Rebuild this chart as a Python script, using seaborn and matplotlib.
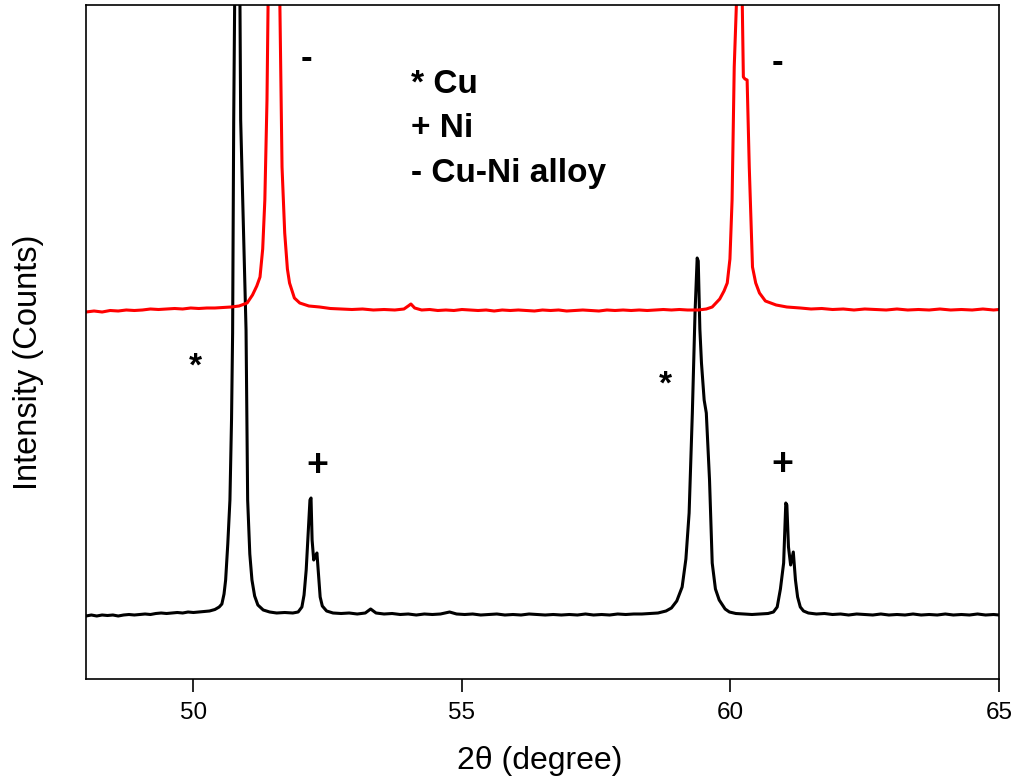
import matplotlib
matplotlib.use("Agg")
import matplotlib.pyplot as plt
import seaborn as sns
import pandas as pd

# ---------------- data ----------------
# Cu/Ni sample (black) : 2theta (degree) and intensity (arbitrary counts)
black_x = [48.00, 48.10, 48.20, 48.30, 48.40, 48.50, 48.60, 48.70, 48.80, 48.90,
           49.00, 49.10, 49.20, 49.30, 49.40, 49.50, 49.60, 49.70, 49.80, 49.90,
           50.00, 50.10, 50.20, 50.30, 50.40, 50.48, 50.53, 50.57, 50.60, 50.64,
           50.68, 50.71, 50.73, 50.75, 50.77, 50.81, 50.865, 50.88, 50.93, 50.98,
           51.01, 51.05, 51.09, 51.14, 51.20, 51.30, 51.42, 51.55, 51.70, 51.85,
           51.95, 52.02, 52.06, 52.10, 52.14, 52.17, 52.19, 52.21, 52.24, 52.27,
           52.30, 52.33, 52.36, 52.40, 52.48, 52.60, 52.75, 52.90, 53.05, 53.20,
           53.30, 53.40, 53.55, 53.70, 53.85, 54.00, 54.15, 54.30, 54.45, 54.60,
           54.77, 54.90, 55.05, 55.20, 55.35, 55.50, 55.65, 55.80, 55.95, 56.10,
           56.25, 56.40, 56.55, 56.70, 56.85, 57.00, 57.15, 57.30, 57.45, 57.60,
           57.75, 57.90, 58.05, 58.20, 58.35, 58.50, 58.65, 58.80, 58.90, 59.00,
           59.10, 59.17, 59.23, 59.29, 59.34, 59.38, 59.40, 59.43, 59.46, 59.51,
           59.55, 59.61, 59.66, 59.72, 59.79, 59.90, 59.98, 60.10, 60.25, 60.40,
           60.55, 60.70, 60.80, 60.87, 60.93, 60.99, 61.03, 61.05, 61.08, 61.12,
           61.17, 61.21, 61.25, 61.30, 61.36, 61.45, 61.60, 61.75, 61.90, 62.05,
           62.20, 62.35, 62.50, 62.65, 62.80, 62.95, 63.10, 63.25, 63.40, 63.55,
           63.70, 63.85, 64.00, 64.15, 64.30, 64.45, 64.60, 64.75, 64.90, 65.00]
black_y = [63, 64, 63, 64, 63.5, 64, 63, 64, 64.5, 64,
           64.5, 65, 64.5, 65.5, 66, 65.5, 66, 66.5, 66, 67,
           66.5, 67, 67.5, 68, 69.5, 72, 75, 85, 99, 135,
           179, 260, 346, 557, 690, 1400, 690, 559, 455, 349,
           179, 125, 99, 83, 74, 69, 67, 66, 66.5, 66,
           67, 72, 84, 109, 149, 179, 181, 139, 119, 123,
           126, 104, 82, 73, 68, 66, 65.5, 66, 65, 66,
           70, 66, 65, 65.5, 64.5, 65, 64, 65, 64.5, 65,
           67, 65, 64.5, 65, 64, 64.5, 65, 64, 64.5, 64,
           65, 64.5, 64, 64.5, 64, 64.5, 64, 65, 64, 64.5,
           64, 65, 64.5, 65, 65, 65.5, 66, 68, 71, 78,
           92, 120, 166, 266, 366, 421, 418, 350, 316, 279,
           266, 199, 116, 90, 79, 70, 67, 65.5, 65, 64.5,
           65, 65.5, 67, 72, 90, 116, 176, 174, 132, 114,
           127, 99, 82, 72, 68, 66, 65, 65.5, 64.5, 65,
           64, 65, 64.5, 64, 65, 64, 64.5, 64, 65, 64,
           64.5, 64, 65, 64, 64.5, 64, 65, 64, 64.5, 64]

# Cu-Ni alloy (red)
red_x = [48.00, 48.15, 48.30, 48.45, 48.60, 48.75, 48.90, 49.05, 49.20, 49.35,
         49.50, 49.65, 49.80, 49.95, 50.10, 50.25, 50.40, 50.55, 50.70, 50.85,
         51.00, 51.10, 51.18, 51.24, 51.29, 51.33, 51.37, 51.39, 51.50, 51.61,
         51.65, 51.70, 51.75, 51.79, 51.88, 51.98, 52.15, 52.35, 52.55, 52.75,
         52.95, 53.15, 53.35, 53.55, 53.75, 53.92, 54.00, 54.05, 54.12, 54.25,
         54.40, 54.55, 54.70, 54.85, 55.00, 55.15, 55.30, 55.45, 55.60, 55.75,
         55.90, 56.05, 56.20, 56.35, 56.50, 56.65, 56.80, 56.95, 57.10, 57.25,
         57.40, 57.55, 57.70, 57.85, 58.00, 58.15, 58.30, 58.45, 58.60, 58.75,
         58.90, 59.05, 59.20, 59.40, 59.55, 59.66, 59.80, 59.88, 59.94, 59.99,
         60.03, 60.07, 60.11, 60.165, 60.22, 60.24, 60.27, 60.31, 60.35, 60.41,
         60.47, 60.54, 60.65, 60.85, 61.05, 61.30, 61.50, 61.70, 61.90, 62.10,
         62.30, 62.50, 62.70, 62.90, 63.10, 63.30, 63.50, 63.70, 63.90, 64.10,
         64.30, 64.50, 64.70, 64.90, 65.00]
red_y = [367, 368, 367, 368.5, 368, 369, 368.5, 369, 370, 369.5,
         370, 370.5, 370, 371, 370.5, 371, 371, 371.5, 372, 373,
         376, 384, 393, 402, 430, 479, 579, 674, 1800, 674,
         512, 446, 410, 396, 381, 376, 373, 372, 370.5, 370,
         369.5, 370, 369, 369.5, 369, 370, 373, 375, 371, 369,
         369.5, 368.5, 369, 368.5, 369.5, 369, 368.5, 369, 368, 369,
         368.5, 369, 368.5, 368, 369, 368.5, 369, 368, 368.5, 369,
         368.5, 368, 369, 368.5, 369, 368.5, 369, 368.5, 369, 369.5,
         369, 369.5, 369, 369, 370, 372, 380, 388, 396, 420,
         479, 612, 674, 1300, 674, 602, 600, 599, 512, 412,
         396, 386, 378, 374, 372, 371, 370, 370.5, 369.5, 370,
         369, 370, 369.5, 369, 370, 369, 369.5, 369, 370, 369,
         369.5, 369, 370, 369, 369.5]

x_ticks = [50, 55, 60, 65]

# annotation texts
legend_lines = ["* Cu", "+ Ni", "- Cu-Ni alloy"]
legend_y = [586, 542, 497]
marker_x = [50.03, 58.79, 52.30, 60.965, 52.11, 60.87]
marker_y = [303, 285, 203, 204, 611, 607]
marker_txt = ["*", "*", "+", "+", "-", "-"]
marker_size = [24, 24, 27, 27, 25, 25]

# ---------------- plotting ----------------
sns.set_theme(style="ticks")
plt.rcParams["font.family"] = ["Liberation Sans", "DejaVu Sans"]

fig = plt.figure(figsize=(10.16, 7.82), dpi=100)
ax = fig.add_axes([86 / 1016, 1 - 679 / 782, (999 - 86) / 1016, (679 - 5) / 782])

df_black = pd.DataFrame({"two_theta": black_x, "intensity": black_y})
df_red = pd.DataFrame({"two_theta": red_x, "intensity": red_y})
sns.lineplot(data=df_black, x="two_theta", y="intensity", ax=ax, color="black",
             linewidth=2.2, estimator=None, sort=False)
sns.lineplot(data=df_red, x="two_theta", y="intensity", ax=ax, color="#ff0000",
             linewidth=2.2, estimator=None, sort=False)

ax.set_xlim(48, 65)
ax.set_ylim(0, 674)
ax.set_xticks(x_ticks)
ax.set_xticklabels([str(t) for t in x_ticks])
ax.set_yticks([])
ax.tick_params(axis="x", direction="out", length=9.5, width=1.2, pad=7,
               labelsize=17.5, colors="black")
for s in ax.spines.values():
    s.set_visible(True)
    s.set_linewidth(1.2)
    s.set_color("black")

ax.set_xlabel("2\u03b8 (degree)", fontsize=23, color="black")
ax.set_ylabel("Intensity (Counts)", fontsize=23.5, color="black")
ax.xaxis.set_label_coords(0.497, -0.100)
ax.yaxis.set_label_coords(-0.046, 0.47)

for txt, yy in zip(legend_lines, legend_y):
    ax.text(54.06, yy, txt, fontsize=24, fontweight="bold", ha="left",
            va="baseline", color="black")
for xx, yy, txt, sz in zip(marker_x, marker_y, marker_txt, marker_size):
    ax.text(xx, yy, txt, fontsize=sz, fontweight="bold", ha="center",
            va="baseline", color="black")

fig.savefig("out.png", dpi=100)
